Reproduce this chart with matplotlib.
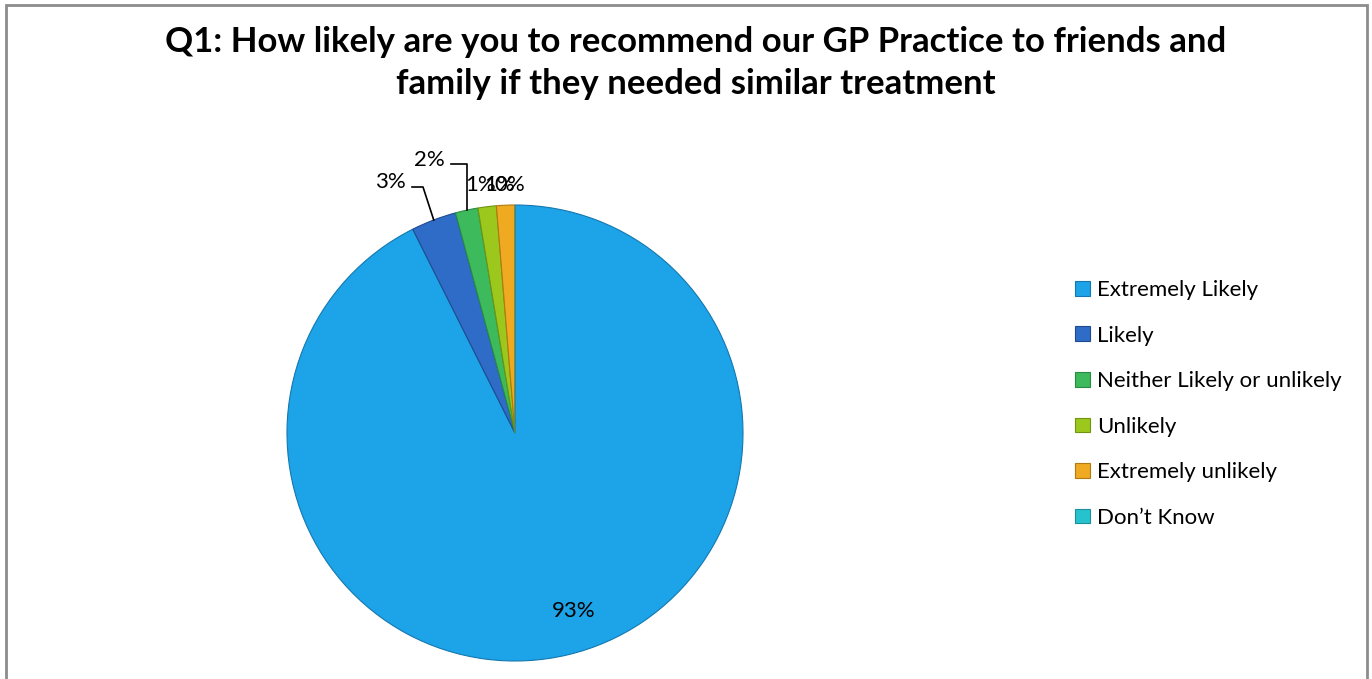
import numpy as np
import matplotlib
matplotlib.use("Agg")
from matplotlib import pyplot as plt
from matplotlib.patches import Rectangle

plt.rcParams['font.family'] = ['Lato', 'DejaVu Sans']

# data
categories = ["Extremely Likely", "Likely", "Neither Likely or unlikely",
              "Unlikely", "Extremely unlikely", "Don\u2019t Know"]
percent = [92.6, 3.2, 1.6, 1.3, 1.3, 0.0]
title = ("Q1: How likely are you to recommend our GP Practice to friends and\n"
         "family if they needed similar treatment")

colors = ["#1CA3E8", "#2F6CC8", "#3DBA5C", "#9CC81E", "#F0AA22", "#26C3CF"]
edges = ["#1478B0", "#1F4A90", "#2A8A42", "#6E9410", "#B07A10", "#1A9098"]

W, H = 1372, 679
fig = plt.figure(figsize=(W / 100, H / 100), dpi=100)
ax = fig.add_axes([0, 0, 1, 1])

def py(y):
    # pixel row (from top) -> axes y
    return H - y

cx, cy, r = 515, py(433), 228
wedges, _ = ax.pie(percent, colors=colors, startangle=90, counterclock=False,
                   center=(cx, cy), radius=r,
                   wedgeprops=dict(linewidth=0.8))
for w, ec in zip(wedges, edges):
    w.set_edgecolor(ec)

ax.set_xlim(0, W)
ax.set_ylim(0, H)
ax.set_aspect('equal')
ax.axis('off')

def edge_point(w, frac=1.0):
    ang = np.deg2rad((w.theta1 + w.theta2) / 2)
    return cx + frac * r * np.cos(ang), cy + frac * r * np.sin(ang)

fs = 16
lbl = [f"{round(v):.0f}%" for v in percent]

# big slice label inside
x0, y0 = edge_point(wedges[0], 0.78)
ax.text(x0 + 18, y0 - 5, lbl[0], fontsize=fs, ha='center', va='center')

# small labels with leader lines (label pixel positions)
ax.text(390, py(182), lbl[1], fontsize=fs, ha='center', va='center')
xe, ye = edge_point(wedges[1])
ax.plot([412, 423, xe], [py(187), py(187), ye], color='black', lw=1.2)

ax.text(429, py(160), lbl[2], fontsize=fs, ha='center', va='center')
xe, ye = edge_point(wedges[2])
ax.plot([451, xe, xe], [py(164), py(164), ye], color='black', lw=1.2)

for txt, xp in zip(lbl[3:], [481, 500, 510]):
    ax.text(xp, py(185), txt, fontsize=fs, ha='center', va='center')

ax.text(696, py(63), title, fontsize=25, fontweight='bold', ha='center',
        va='center', linespacing=1.39)

leg = ax.legend(wedges, categories, loc='upper left',
                bbox_to_anchor=(1064 / W, 1 - 269 / H), frameon=False,
                fontsize=fs, handlelength=0.65, handleheight=0.65,
                handletextpad=0.35, labelspacing=1.15, borderpad=0)

# chart frame
fig.patches.append(Rectangle((6 / W, -0.05), (1367 - 6) / W, 1.05 - 5 / H,
                             transform=fig.transFigure, fill=False,
                             edgecolor='#8C8C8C', linewidth=2))

fig.savefig("out.png", dpi=100)
